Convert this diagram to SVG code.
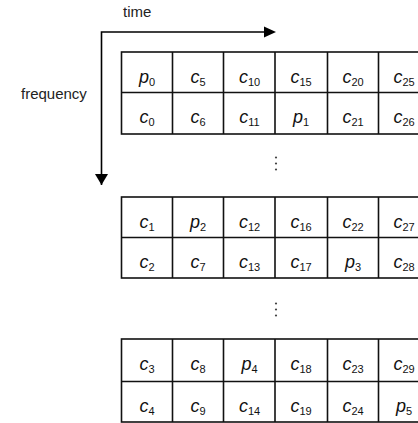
<svg xmlns="http://www.w3.org/2000/svg" width="418" height="423" viewBox="0 0 418 423">
<style>
.grid{fill:none;stroke:#111;stroke-width:1.6}
.lbl{font-family:"Liberation Sans",Arial,sans-serif;font-size:15px;fill:#222}
.cell{font-family:"Liberation Sans",Arial,sans-serif;fill:#111;text-anchor:middle}
.m{font-size:18px;font-style:italic}
.s{font-size:11px}
.axis{fill:none;stroke:#000;stroke-width:1.6}
.dot{fill:#444}
</style>
<defs>
<marker id="ah" markerWidth="12" markerHeight="12" refX="11" refY="6" orient="auto" markerUnits="userSpaceOnUse">
<path d="M0,0 L12,6 L0,12 Z" fill="#000"/>
</marker>
</defs>
<rect width="418" height="423" fill="#fff"/>
<text class="lbl" x="123" y="17">time</text>
<text class="lbl" x="21" y="99">frequency</text>
<g id="connectors">
<path class="axis" d="M101.5,185 V32 H265"/>
<path d="M264,26.5 L276,32 L264,37.5 Z" fill="#000"/>
<path d="M95,174 L101.5,185 L108,174 Z" fill="#000"/>
</g>
<g id="table1">
<rect class="grid" x="121.5" y="52" width="320" height="82"/>
<path class="grid" d="M121.5,92.5 H430 M172.5,52 V134 M223.5,52 V134 M275,52 V134 M327.5,52 V134 M378.5,52 V134"/>
<g id="t1r1" class="cell">
<text x="147" y="83"><tspan class="m">p</tspan><tspan class="s" dy="3">0</tspan></text>
<text x="198" y="83"><tspan class="m">c</tspan><tspan class="s" dy="3">5</tspan></text>
<text x="249.5" y="83"><tspan class="m">c</tspan><tspan class="s" dy="3">10</tspan></text>
<text x="301" y="83"><tspan class="m">c</tspan><tspan class="s" dy="3">15</tspan></text>
<text x="353" y="83"><tspan class="m">c</tspan><tspan class="s" dy="3">20</tspan></text>
<text x="404" y="83"><tspan class="m">c</tspan><tspan class="s" dy="3">25</tspan></text>
</g>
<g id="t1r2" class="cell">
<text x="147" y="123"><tspan class="m">c</tspan><tspan class="s" dy="3">0</tspan></text>
<text x="198" y="123"><tspan class="m">c</tspan><tspan class="s" dy="3">6</tspan></text>
<text x="249.5" y="123"><tspan class="m">c</tspan><tspan class="s" dy="3">11</tspan></text>
<text x="301" y="123"><tspan class="m">p</tspan><tspan class="s" dy="3">1</tspan></text>
<text x="353" y="123"><tspan class="m">c</tspan><tspan class="s" dy="3">21</tspan></text>
<text x="404" y="123"><tspan class="m">c</tspan><tspan class="s" dy="3">26</tspan></text>
</g>
</g>
<g id="dots1">
<circle class="dot" cx="276" cy="157.5" r="1.1"/>
<circle class="dot" cx="276" cy="163.5" r="1.1"/>
<circle class="dot" cx="276" cy="169.5" r="1.1"/>
</g>
<g id="table2">
<rect class="grid" x="121.5" y="197" width="320" height="81"/>
<path class="grid" d="M121.5,237.5 H430 M172.5,197 V278 M223.5,197 V278 M275,197 V278 M327.5,197 V278 M378.5,197 V278"/>
<g id="t2r1" class="cell">
<text x="147" y="228"><tspan class="m">c</tspan><tspan class="s" dy="3">1</tspan></text>
<text x="198" y="228"><tspan class="m">p</tspan><tspan class="s" dy="3">2</tspan></text>
<text x="249.5" y="228"><tspan class="m">c</tspan><tspan class="s" dy="3">12</tspan></text>
<text x="301" y="228"><tspan class="m">c</tspan><tspan class="s" dy="3">16</tspan></text>
<text x="353" y="228"><tspan class="m">c</tspan><tspan class="s" dy="3">22</tspan></text>
<text x="404" y="228"><tspan class="m">c</tspan><tspan class="s" dy="3">27</tspan></text>
</g>
<g id="t2r2" class="cell">
<text x="147" y="268"><tspan class="m">c</tspan><tspan class="s" dy="3">2</tspan></text>
<text x="198" y="268"><tspan class="m">c</tspan><tspan class="s" dy="3">7</tspan></text>
<text x="249.5" y="268"><tspan class="m">c</tspan><tspan class="s" dy="3">13</tspan></text>
<text x="301" y="268"><tspan class="m">c</tspan><tspan class="s" dy="3">17</tspan></text>
<text x="353" y="268"><tspan class="m">p</tspan><tspan class="s" dy="3">3</tspan></text>
<text x="404" y="268"><tspan class="m">c</tspan><tspan class="s" dy="3">28</tspan></text>
</g>
</g>
<g id="dots2">
<circle class="dot" cx="276" cy="303.5" r="1.1"/>
<circle class="dot" cx="276" cy="309.5" r="1.1"/>
<circle class="dot" cx="276" cy="315.5" r="1.1"/>
</g>
<g id="table3">
<rect class="grid" x="121.5" y="339" width="320" height="83"/>
<path class="grid" d="M121.5,381.5 H430 M172.5,339 V422 M223.5,339 V422 M275,339 V422 M327.5,339 V422 M378.5,339 V422"/>
<g id="t3r1" class="cell">
<text x="147" y="370"><tspan class="m">c</tspan><tspan class="s" dy="3">3</tspan></text>
<text x="198" y="370"><tspan class="m">c</tspan><tspan class="s" dy="3">8</tspan></text>
<text x="249.5" y="370"><tspan class="m">p</tspan><tspan class="s" dy="3">4</tspan></text>
<text x="301" y="370"><tspan class="m">c</tspan><tspan class="s" dy="3">18</tspan></text>
<text x="353" y="370"><tspan class="m">c</tspan><tspan class="s" dy="3">23</tspan></text>
<text x="404" y="370"><tspan class="m">c</tspan><tspan class="s" dy="3">29</tspan></text>
</g>
<g id="t3r2" class="cell">
<text x="147" y="412"><tspan class="m">c</tspan><tspan class="s" dy="3">4</tspan></text>
<text x="198" y="412"><tspan class="m">c</tspan><tspan class="s" dy="3">9</tspan></text>
<text x="249.5" y="412"><tspan class="m">c</tspan><tspan class="s" dy="3">14</tspan></text>
<text x="301" y="412"><tspan class="m">c</tspan><tspan class="s" dy="3">19</tspan></text>
<text x="353" y="412"><tspan class="m">c</tspan><tspan class="s" dy="3">24</tspan></text>
<text x="404" y="412"><tspan class="m">p</tspan><tspan class="s" dy="3">5</tspan></text>
</g>
</g>
</svg>
